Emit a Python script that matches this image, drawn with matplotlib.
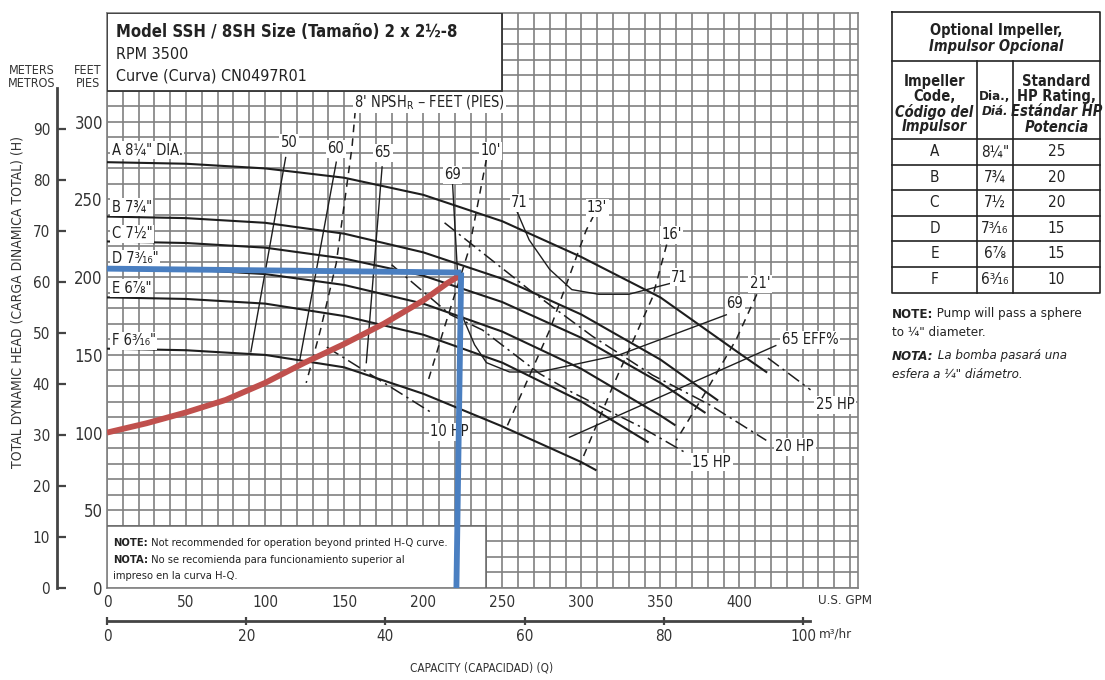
import matplotlib
matplotlib.use('Agg')
import matplotlib.pyplot as plt
from matplotlib.patches import Rectangle
import numpy as np

plt.rcParams['font.family'] = ['DejaVu Sans']
plt.rcParams['font.stretch'] = 'condensed'

W, H = 1105, 680
FT_PER_M = 3.28084
GPM_PER_M3H = 4.40287

# ---- impeller H-Q curves (US GPM, feet) ----
q_a = [0, 50, 100, 150, 200, 250, 300, 350, 400, 417]
h_a = [274, 273, 270, 264, 253, 236, 213, 187, 151, 139]
q_b = [0, 50, 100, 150, 200, 250, 300, 350, 386]
h_b = [239, 238, 235, 228, 216, 199, 176, 147, 121]
q_c = [0, 50, 100, 150, 200, 250, 300, 350, 378]
h_c = [223, 222, 219, 212, 201, 184, 161, 132, 113]
q_d = [0, 50, 100, 150, 200, 250, 300, 350, 359]
h_d = [206, 205, 202, 195, 183, 165, 141, 111, 105]
q_e = [0, 50, 100, 150, 200, 250, 300, 342]
h_e = [187, 186, 183, 175, 163, 145, 120, 94]
q_f = [0, 50, 100, 150, 200, 250, 300, 309]
h_f = [154, 153, 150, 142, 125, 104, 81, 76]
diam_labels = ['A 8¼" DIA.', 'B 7¾"', 'C 7½"', 'D 7³⁄₁₆"', 'E 6⅞"', 'F 6³⁄₁₆"']
diam_label_ft = [282, 245, 228, 212, 193, 159]

# ---- efficiency lines ----
eff50_q, eff50_h = [91, 113], [152, 277]
eff60_q, eff60_h = [122, 145], [147, 274]
eff65_q, eff65_h = [164, 174], [145, 271]
eff69_q = [218.6, 221.7, 224.9, 232.5, 240, 254.6, 273.5, 324, 391.7]
eff69_h = [259.5, 202.8, 174.5, 156.5, 145, 139, 139, 150, 175.8]
eff71_q = [259, 267, 280, 294, 311, 330, 360]
eff71_h = [243, 224, 205, 192, 189, 189, 197]
eff65r_q, eff65r_h = [292.5, 423], [97, 156]

# ---- NPSHr lines ----
npsh8_q, npsh8_h = [157, 155, 145, 135, 126], [307, 284, 209, 166, 132]
npsh10_q, npsh10_h = [240, 229, 213.5, 203], [276, 218, 168, 133]
npsh13_q, npsh13_h = [308, 303, 280, 253], [240, 230, 166, 104]
npsh16_q, npsh16_h = [354, 345, 320, 299], [221, 187, 130, 79]
npsh21_q, npsh21_h = [411, 398, 378, 360], [189, 160, 125, 95]

# ---- horsepower lines ----
hp10_q, hp10_h = [139, 205], [155, 113]
hp15_q = [180, 217, 237.5, 273.5, 294, 337, 366]
hp15_h = [208, 176, 166, 138, 126, 104, 87]
hp20_q = [213.5, 267, 307, 345, 381, 417]
hp20_h = [235, 192, 162, 137, 118, 95]
hp25_q, hp25_h = [418, 445], [148, 127.5]

# ---- system curve and duty point ----
sys_q = [0, 25, 50, 75, 100, 125, 150, 175, 200, 215, 223]
sys_h = [100, 106, 113, 121, 132, 145, 157, 170, 185, 196, 201]
duty_h_q, duty_h_h = [0, 224], [205.5, 203]
duty_v_q, duty_v_h = [224, 221], [203, 0]

# ---- impeller table ----
codes = ['A', 'B', 'C', 'D', 'E', 'F']
dias = ['8¼"', '7¾', '7½', '7³⁄₁₆', '6⅞', '6³⁄₁₆']
hp_ratings = [25, 20, 20, 15, 15, 10]

# chart text labels: (text, gpm, ft)
curve_labels = [
    ('50', 115, 286.5), ('60', 144.7, 282.7), ('65', 174.5, 280),
    ('69', 218.6, 266), ('71', 261, 248), ("10'", 242.6, 281.4),
    ("13'", 310, 244.7), ("16'", 357, 227.3), ('71', 362, 200),
    ("21'", 413, 195.7), ('69', 397, 182.9), ('65 EFF%', 444.7, 159.7),
    ('25 HP', 460.5, 117.8), ('20 HP', 435, 90.8), ('15 HP', 382.5, 81),
    ('10 HP', 216.7, 100.4),
]

GRID = '#808080'
INK = '#1e1e1e'
AXC = '#444444'

fig = plt.figure(figsize=(W / 100, H / 100), dpi=100)
rect = [107 / W, 92 / H, 751 / W, 575 / H]
ax = fig.add_axes(rect)
ax.set_xlim(0, 475)
ax.set_ylim(0, 370)
ax.set_xticks(np.arange(0, 401, 50))
ax.set_xticks(np.arange(0, 475, 10), minor=True)
ax.set_yticks(np.arange(0, 301, 50))
ax.set_yticks(np.arange(0, 370, 10), minor=True)
ax.grid(which='both', color=GRID, lw=1.2)
ax.set_axisbelow(True)
ax.tick_params(which='both', length=0)
ax.tick_params(axis='x', labelsize=11, pad=5, labelcolor='#333')
ax.tick_params(axis='y', labelsize=12, pad=3, labelcolor='#333')
for s in ax.spines.values():
    s.set_color(GRID)
    s.set_linewidth(1.2)

# H-Q curves
for q, h in [(q_a, h_a), (q_b, h_b), (q_c, h_c), (q_d, h_d), (q_e, h_e), (q_f, h_f)]:
    ax.plot(q, h, color=INK, lw=1.5, zorder=3)

for q, h in [(eff50_q, eff50_h), (eff60_q, eff60_h), (eff65_q, eff65_h),
             (eff69_q, eff69_h), (eff71_q, eff71_h), (eff65r_q, eff65r_h)]:
    ax.plot(q, h, color=INK, lw=1.0, zorder=3)

for q, h in [(npsh8_q, npsh8_h), (npsh10_q, npsh10_h), (npsh13_q, npsh13_h),
             (npsh16_q, npsh16_h), (npsh21_q, npsh21_h)]:
    ax.plot(q, h, color=INK, lw=1.1, ls=(0, (5, 4)), zorder=3)

for q, h in [(hp10_q, hp10_h), (hp15_q, hp15_h), (hp20_q, hp20_h), (hp25_q, hp25_h)]:
    ax.plot(q, h, color=INK, lw=1.1, ls=(0, (9, 3, 1.5, 3)), zorder=3)

# boxes
ax.add_patch(Rectangle((0, 320), 250, 50, facecolor='white', edgecolor='#333', lw=1.3, zorder=4))
ax.add_patch(Rectangle((0, 0), 240, 40, facecolor='white', edgecolor='#666', lw=1.1, zorder=4))

lab_box = dict(facecolor='white', edgecolor='none', pad=1)
for txt, ft in zip(diam_labels, diam_label_ft):
    ax.text(3, ft, txt, fontsize=10.5, color='#222', va='center', ha='left', bbox=lab_box, zorder=5)
for txt, q, ft in curve_labels:
    ax.text(q, ft, txt, fontsize=10.5, color='#222', va='center', ha='center', bbox=lab_box, zorder=5)
ax.text(204, 312.3, r"8' NPSH$_\mathregular{R}$ – FEET (PIES)", fontsize=10.5, color='#222',
        va='center', ha='center', bbox=lab_box, zorder=5)

# system curve and duty point
ax.plot(sys_q, sys_h, color='#c0504d', lw=4.2, solid_capstyle='butt', zorder=6)
ax.plot(duty_h_q, duty_h_h, color='#4a7fc1', lw=4.2, solid_capstyle='butt', zorder=7)
ax.plot(duty_v_q, duty_v_h, color='#4a7fc1', lw=4.2, solid_capstyle='butt', zorder=7)

# title box text
ax.text(6, 358, 'Model SSH / 8SH Size (Tamaño) 2 x 2½-8', fontsize=12, fontweight='bold',
        color='#222', va='center', zorder=6)
ax.text(6, 343.5, 'RPM 3500', fontsize=11.5, color='#222', va='center', zorder=6)
ax.text(6, 329.5, 'Curve (Curva) CN0497R01', fontsize=11.5, color='#222', va='center', zorder=6)

# note box text
n1 = ax.text(4, 29, 'NOTE:', fontsize=8, fontweight='bold', color='#222', va='center', zorder=6)
ax.annotate(' Not recommended for operation beyond printed H-Q curve.', xy=(1, 0), xycoords=n1,
            va='bottom', fontsize=8, color='#222', zorder=6)
n2 = ax.text(4, 18, 'NOTA:', fontsize=8, fontweight='bold', color='#222', va='center', zorder=6)
ax.annotate(' No se recomienda para funcionamiento superior al', xy=(1, 0), xycoords=n2,
            va='bottom', fontsize=8, color='#222', zorder=6)
ax.text(4, 7.5, 'impreso en la curva H-Q.', fontsize=8, color='#222', va='center', zorder=6)

# meters axis
axm = fig.add_axes(rect, facecolor='none')
axm.set_ylim(0, 370 / FT_PER_M)
axm.set_xticks([])
for k in ['top', 'right', 'bottom']:
    axm.spines[k].set_visible(False)
axm.spines['left'].set_position(('outward', 50 * 0.72))
axm.spines['left'].set_bounds(0, 98)
axm.spines['left'].set_color(AXC)
axm.spines['left'].set_linewidth(2)
axm.set_yticks(np.arange(0, 91, 10))
axm.tick_params(axis='y', direction='in', length=6.5, width=1.6, color=AXC,
                labelsize=11, pad=5, labelcolor='#333')

# m3/hr axis
axq = fig.add_axes(rect, facecolor='none')
axq.set_xlim(0, 475 / GPM_PER_M3H)
axq.set_yticks([])
for k in ['top', 'right', 'left']:
    axq.spines[k].set_visible(False)
axq.spines['bottom'].set_position(('outward', 33 * 0.72))
axq.spines['bottom'].set_bounds(0, 101)
axq.spines['bottom'].set_color(AXC)
axq.spines['bottom'].set_linewidth(2)
axq.set_xticks(np.arange(0, 101, 20))
axq.tick_params(axis='x', direction='inout', length=6, width=1.6, color=AXC,
                labelsize=11, pad=3, labelcolor='#333')

# overlay in pixel coordinates for the free text and the table
pax = fig.add_axes([0, 0, 1, 1], facecolor='none')
pax.set_xlim(0, W)
pax.set_ylim(H, 0)
pax.axis('off')

pax.text(32, 77, 'METERS\nMETROS', fontsize=9, ha='center', va='center', color='#333', linespacing=0.95)
pax.text(88, 77, 'FEET\nPIES', fontsize=9, ha='center', va='center', color='#333', linespacing=0.95)
pax.text(18, 302, 'TOTAL DYNAMIC HEAD (CARGA DINAMICA TOTAL) (H)', fontsize=10, rotation=90,
         ha='center', va='center', color='#333')
pax.text(845, 600, 'U.S. GPM', fontsize=9.5, ha='center', va='center', color='#333')
pax.text(835, 634, 'm³/hr', fontsize=9.5, ha='center', va='center', color='#333')
pax.text(482, 668, 'CAPACITY (CAPACIDAD) (Q)', fontsize=8.5, ha='center', va='center', color='#333')

# table
tl, tr, tt, tb = 892, 1100, 12, 293
c1, c2 = 977, 1013
row_lines = [61, 139, 164.5, 190, 215.5, 241, 266.5]
lk = dict(color='#222', lw=1.2)
pax.plot([tl, tr, tr, tl, tl], [tt, tt, tb, tb, tt], **lk)
for y in row_lines:
    pax.plot([tl, tr], [y, y], **lk)
pax.plot([c1, c1], [61, tb], **lk)
pax.plot([c2, c2], [61, tb], **lk)

tk = dict(ha='center', va='center', color='#222')
pax.text(996, 31, 'Optional Impeller,', fontsize=10.5, fontweight='bold', **tk)
pax.text(996, 46.5, 'Impulsor Opcional', fontsize=10.5, fontweight='bold', style='italic', **tk)
for y, t, it in [(81.5, 'Impeller', False), (96.5, 'Code,', False),
                 (111.5, 'Código del', True), (127, 'Impulsor', True)]:
    pax.text(934.5, y, t, fontsize=10.5, fontweight='bold', style='italic' if it else 'normal', **tk)
pax.text(995, 96.5, 'Dia.,', fontsize=9.5, fontweight='bold', **tk)
pax.text(995, 111.5, 'Diá.', fontsize=9.5, fontweight='bold', style='italic', **tk)
for y, t, it in [(81.5, 'Standard', False), (96.5, 'HP Rating,', False),
                 (111.5, 'Estándar HP', True), (127, 'Potencia', True)]:
    pax.text(1056.5, y, t, fontsize=10.5, fontweight='bold', style='italic' if it else 'normal', **tk)
for i, (code, dia, hp) in enumerate(zip(codes, dias, hp_ratings)):
    y = (row_lines[i + 1] + (row_lines[i + 2] if i + 2 < len(row_lines) else tb)) / 2
    pax.text(934.5, y, code, fontsize=11, **tk)
    pax.text(995, y, dia, fontsize=11, **tk)
    pax.text(1056.5, y, str(hp), fontsize=11, **tk)

t = pax.text(892, 314, 'NOTE:', fontsize=9.5, fontweight='bold', va='center', color='#222')
pax.annotate(' Pump will pass a sphere', xy=(1, 0), xycoords=t, va='bottom', fontsize=9.5, color='#222')
pax.text(892, 332, 'to ¼" diameter.', fontsize=9.5, va='center', color='#222')
t = pax.text(892, 356, 'NOTA:', fontsize=9.5, fontweight='bold', style='italic', va='center', color='#222')
pax.annotate(' La bomba pasará una', xy=(1, 0), xycoords=t, va='bottom', fontsize=9.5,
             style='italic', color='#222')
pax.text(892, 375, 'esfera a ¼" diámetro.', fontsize=9.5, style='italic', va='center', color='#222')

fig.savefig('out.png', dpi=100, facecolor='white')
